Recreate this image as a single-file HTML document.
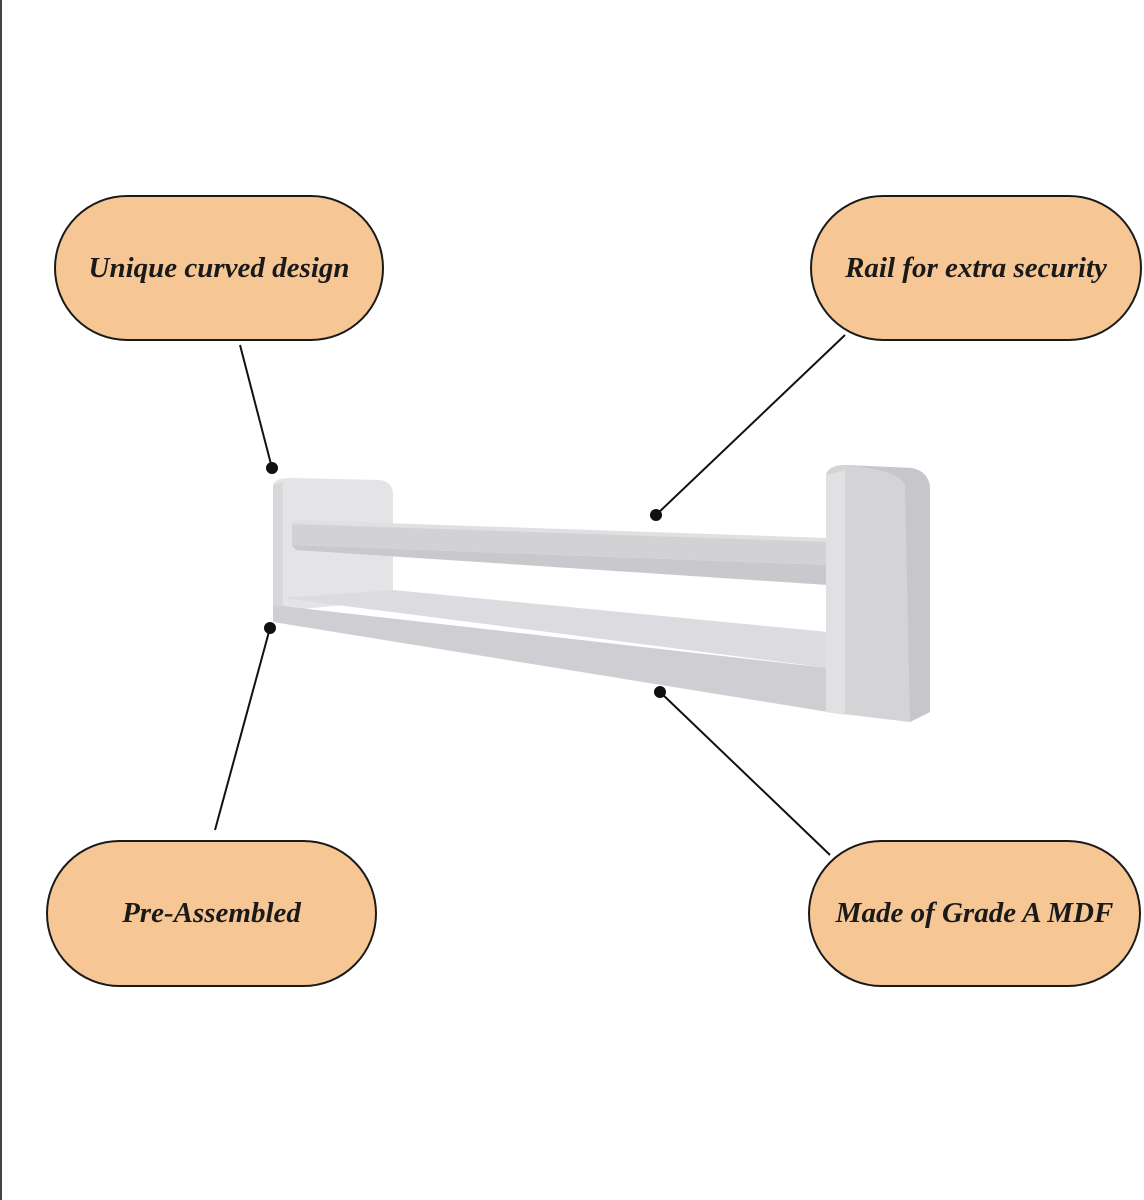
<!DOCTYPE html>
<html><head><meta charset="utf-8"><style>
html,body{margin:0;padding:0;background:#fff;}
body{width:1144px;height:1200px;position:relative;overflow:hidden;}
.pill{position:absolute;background:#f6c794;border:2px solid #1a1a1a;border-radius:80px;box-sizing:border-box;display:flex;align-items:center;justify-content:center;font-family:"Liberation Serif",serif;font-style:italic;font-weight:bold;font-size:29px;color:#1a1a1a;}
</style></head><body>
<div style="position:absolute;left:0;top:0;width:2px;height:1200px;background:#444"></div>
<svg width="1144" height="1200" style="position:absolute;left:0;top:0">
<!-- shelf -->
<path d="M826,475 Q828,465 845,465 L912,468 Q930,472 930,490 L930,712 L910,722 L826,712 Z" fill="#d4d3d6"/>
<path d="M845,465 L912,468 Q930,472 930,490 L930,712 L910,722 L905,485 Q900,470 845,465 Z" fill="#c7c6ca"/>
<path d="M273,485 Q275,478 290,478 L380,480 Q393,482 393,495 L393,600 L273,612 Z" fill="#e4e3e6"/>
<path d="M273,485 L283,482 L283,612 L273,615 Z" fill="#d8d7da"/>
<path d="M292,522 L828,540 L828,565 L292,545 Z" fill="#d2d1d4"/>
<path d="M292,545 L828,565 L828,585 L296,550 Z" fill="#c9c8cc"/>
<path d="M296,520 L828,538 L828,542 L292,524 Z" fill="#e0dfe2"/>
<path d="M283,598 L393,590 L828,632 L828,668 Z" fill="#dcdbdf"/>
<path d="M273,605 L828,668 L828,712 L273,622 Z" fill="#cfced2"/>
<path d="M826,475 L845,470 L845,715 L826,712 Z" fill="#e1e0e3"/>
<g stroke="#111" stroke-width="2" fill="#111">
<line x1="240" y1="345" x2="272" y2="468"/><circle cx="272" cy="468" r="5"/>
<line x1="845" y1="335" x2="656" y2="515"/><circle cx="656" cy="515" r="5"/>
<line x1="270" y1="628" x2="215" y2="830"/><circle cx="270" cy="628" r="5"/>
<line x1="660" y1="692" x2="830" y2="855"/><circle cx="660" cy="692" r="5"/>
</g>
</svg>
<div class="pill" style="left:54px;top:195px;width:330px;height:146px">Unique curved design</div>
<div class="pill" style="left:810px;top:195px;width:332px;height:146px">Rail for extra security</div>
<div class="pill" style="left:46px;top:840px;width:331px;height:147px">Pre-Assembled</div>
<div class="pill" style="left:808px;top:840px;width:333px;height:147px">Made of Grade A MDF</div>
</body></html>
